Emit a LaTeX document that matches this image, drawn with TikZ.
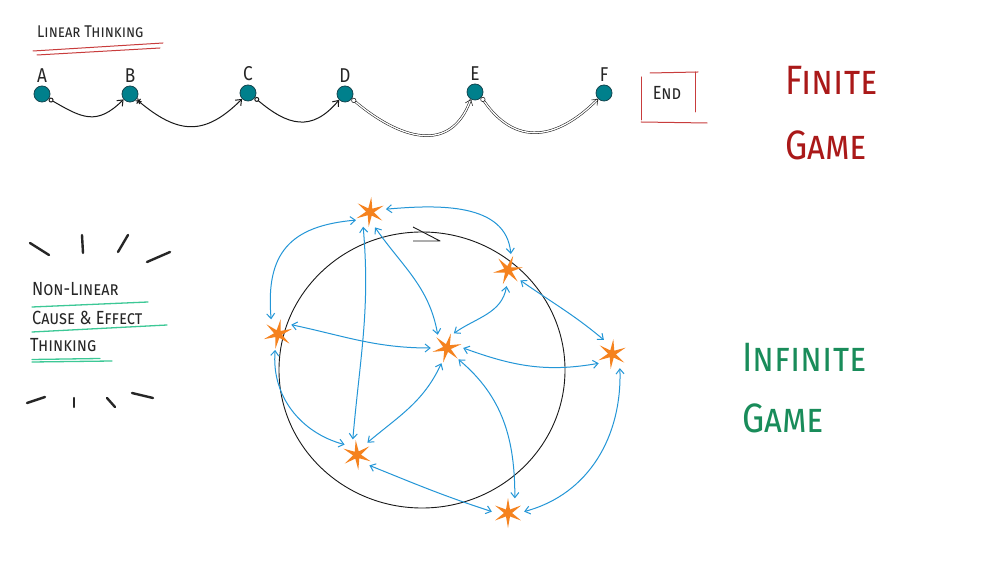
\documentclass[tikz,border=0pt]{standalone}
\usepackage{fontspec}
\setmainfont{Fira Sans}[FakeStretch=0.86]
\usetikzlibrary{arrows.meta,calc}
\definecolor{teal1}{RGB}{0,128,140}
\definecolor{tealdark}{RGB}{20,70,80}
\definecolor{redline}{RGB}{200,60,60}
\definecolor{finred}{RGB}{170,25,25}
\definecolor{infgreen}{RGB}{25,140,90}
\definecolor{mint}{RGB}{60,200,150}
\definecolor{blue1}{RGB}{35,150,215}
\definecolor{orange1}{RGB}{245,130,30}
\tikzset{
  starrot/.store in=\starrot, starrot=90,
  dot/.style={circle, fill=teal1, draw=tealdark, line width=0.8pt, minimum size=16pt, inner sep=0pt, label distance=3pt},
  lbl/.style={font=\fontsize{20}{20}\selectfont, text=black!85},
  link/.style={draw=black!90, line width=1pt, {Circle[open,length=5pt,width=5pt]}-{Straight Barb[length=5pt,width=8pt]}},
  raylink/.style={draw=black!90, line width=1pt, {Rays[n=6,length=6pt,width=6pt]}-{Straight Barb[length=5pt,width=8pt]}},
  dbl/.style={double=white, double distance=1.3pt, line width=0.55pt},
  starnode/.style={circle, minimum size=32pt, inner sep=0pt,
    path picture={\fill[orange1, shift={(path picture bounding box.center)}]
      (\starrot-30:4pt) \foreach \a in {0,60,...,300}{ -- (\starrot+\a:15pt) -- (\starrot+\a+30:4pt)} -- cycle;}},
  blink/.style={draw=blue1, line width=1pt, {Straight Barb[length=5pt,width=8pt]}-{Straight Barb[length=5pt,width=8pt]}},
  burst/.style={line width=2.4pt, line cap=round, black!85},
  mintline/.style={mint, line width=1.3pt, line cap=round},
  redul/.style={redline, line width=1pt, line cap=round},
  smalltext/.style={anchor=base west, inner sep=0pt, font=\fontsize{19}{19}\selectfont, text=black!85},
  bigred/.style={anchor=base west, inner sep=0pt, font=\fontsize{41}{41}\selectfont, text=finred},
  biggreen/.style={anchor=base west, inner sep=0pt, font=\fontsize{41}{41}\selectfont, text=infgreen},
}
\begin{document}
\begin{tikzpicture}[x=1pt,y=1pt]
\useasboundingbox (0,0) rectangle (1000,562);
\fill[white] (0,0) rectangle (1000,562);

% ---- Linear thinking ----
\node[anchor=base west, inner sep=0pt, font=\fontsize{17}{17}\selectfont, text=black!85] (lt) at (37,524) {\textsc{Linear Thinking}};
\draw[redul] (33,511) -- (163,519);
\draw[redul] (37,507) -- (160,514);

\node[dot, label={[lbl]above:A}] (A) at (42,468) {};
\node[dot, label={[lbl]above:B}] (B) at (130,468) {};
\node[dot, label={[lbl]above:C}] (C) at (248,469) {};
\node[dot, label={[lbl]above:D}] (D) at (345,468) {};
\node[dot, label={[lbl]above:E}] (E) at (475,470) {};
\node[dot, label={[lbl]above:F}] (F) at (604,469) {};

\draw[link] (A.-35) to[out=-30,in=225,looseness=1.3] (B.-140);
\draw[raylink] (B.-40) to[out=-40,in=225,looseness=1.3] (C.-135);
\draw[link] (C.-35) to[out=-40,in=230,looseness=1.3] (D.-135);
\draw[link,dbl] (D.-35) to[out=-40,in=250,looseness=1.3] (E.-120);
\draw[link,dbl] (E.-40) to[out=-55,in=225,looseness=1.3] (F.-135);

% End box
\node[anchor=center, inner sep=0pt, font=\fontsize{19}{19}\selectfont, text=black!85] (endt) at (667,469) {\textsc{End}};
\draw[redline, line width=1pt, line cap=round] (641,485) -- (641,442);
\draw[redline, line width=1pt, line cap=round] (695,490) -- (695,450);
\draw[redline, line width=1pt, line cap=round] (650,489) -- (698,490);
\draw[redline, line width=1pt, line cap=round] (641,440) -- (707,439);

% Finite game
\node[bigred] (fin1) at (785,467) {\textsc{Finite}};
\node[bigred] (fin2) at (785,402) {\textsc{Game}};

% ---- Non-linear ----
\draw[burst] (30,319) -- (49,307);
\draw[burst] (82,327) -- (83,309);
\draw[burst] (128,327) -- (118,310);
\draw[burst] (147,300) -- (170,310);
\draw[burst] (27,159) -- (45,165);
\draw[burst] (74,164) -- (74,155);
\draw[burst] (107,164) -- (115,155);
\draw[burst] (132,169) -- (153,164);

\node[smalltext] (nl1) at (32,266) {\textsc{Non-Linear}};
\node[smalltext] (nl2) at (32,237) {\textsc{Cause \& Effect}};
\node[smalltext] (nl3) at (30,210) {\textsc{Thinking}};
\draw[mintline] (32,255) -- (148,260);
\draw[mintline] (32,230) -- (167,237);
\draw[mintline] (32,200) -- (112,201);
\draw[mintline] (32,202.5) -- (100,203.5);

% Infinite game
\node[biggreen] (inf1) at (742,190) {\textsc{Infinite}};
\node[biggreen] (inf2) at (742,129) {\textsc{Game}};

% ---- loop ----
\draw[black!90, line width=0.9pt] (422,192) ellipse [x radius=143, y radius=138];
\draw[black!90, line width=0.9pt, line join=round] (413,335) -- (440,321) -- (413,321);

\node[starnode, starrot=85] (s1) at (370,350) {};
\node[starnode, starrot=70] (s2) at (508,292) {};
\node[starnode, starrot=80] (s3) at (278,228) {};
\node[starnode, starrot=75] (s4) at (447,214) {};
\node[starnode, starrot=85] (s5) at (612,208) {};
\node[starnode, starrot=95] (s6) at (357,107) {};
\node[starnode, starrot=90] (s7) at (508,49) {};

\draw[blink] (s1.10) to[out=5,in=95] (s2.80);
\draw[blink] (s1.210) to[out=185,in=95,looseness=1.3] (s3.115);
\draw[blink] (s1.245) to[out=-85,in=85] (s6.105);
\draw[blink] (s1.-72) to[out=-55,in=100] (s4.125);
\draw[blink] (s2.-95) to[out=-100,in=35] (s4.65);
\draw[blink] (s2.-40) to[out=-35,in=140] (s5.120);
\draw[blink] (s3.35) to[out=-12,in=180] (s4.180);
\draw[blink] (s3.-100) to[out=-95,in=165] (s6.140);
\draw[blink] (s4.-110) to[out=-115,in=40] (s6.50);
\draw[blink] (s4.0) to[out=-20,in=190] (s5.215);
\draw[blink] (s4.-45) to[out=-40,in=90] (s7.65);
\draw[blink] (s6.-40) to[out=-22,in=162] (s7.175);
\draw[blink] (s5.-61) to[out=-88,in=15] (s7.5);
\end{tikzpicture}
\end{document}
